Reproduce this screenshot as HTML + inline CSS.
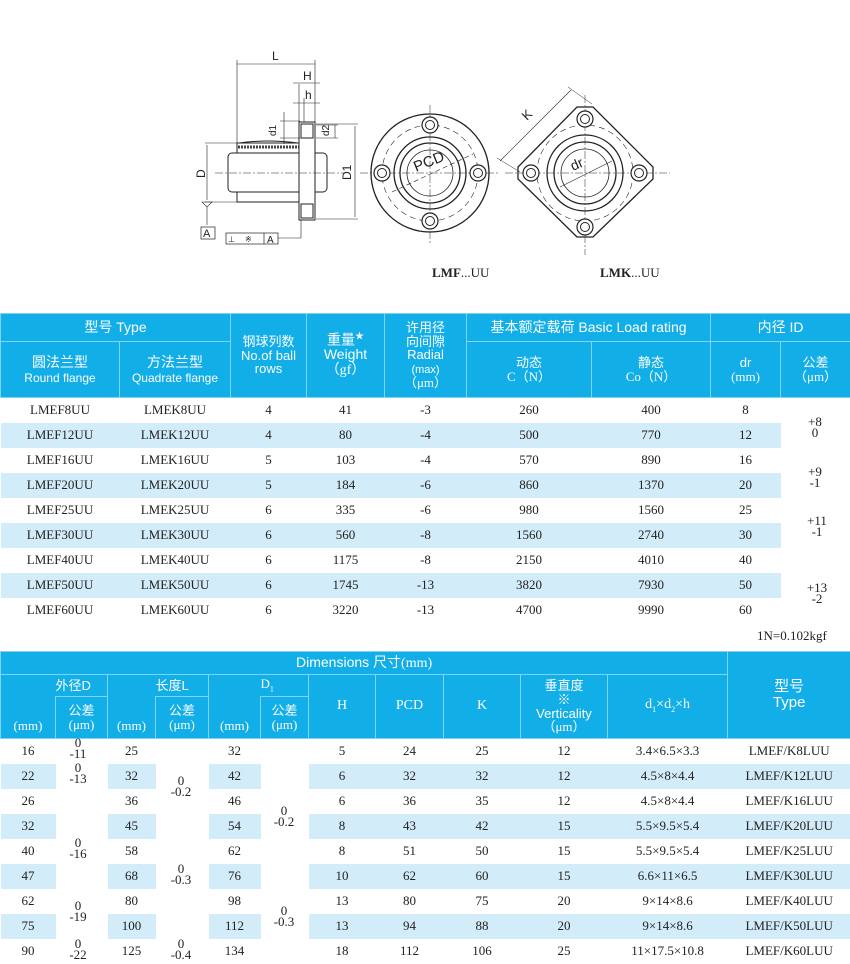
<!DOCTYPE html>
<html><head><meta charset="utf-8">
<style>
*{margin:0;padding:0;box-sizing:border-box}
body{width:850px;height:962px;background:#fff;position:relative;overflow:hidden;font-family:"Liberation Serif","Noto Serif CJK SC",serif;color:#222}
.a{position:absolute}
table{position:absolute;border-collapse:collapse;table-layout:fixed;left:0}
td{text-align:center;vertical-align:middle;padding:0;font-size:13px;white-space:nowrap;overflow:hidden}
.h td{background:#12aee8;color:#fff;font-family:"Liberation Sans","Noto Sans CJK SC",sans-serif;border:1px solid #7fd3f3;line-height:1.05}
.s td.b{background:#d3ecf9}
.tol{position:absolute;font-size:13px;line-height:11px;text-align:center;width:50px}
.sm{font-size:11px}
</style></head><body>

<svg class="a" style="left:0;top:0" width="850" height="300" viewBox="0 0 850 300">
<g stroke="#222" fill="none" stroke-width="1">
 <line x1="237" y1="60" x2="237" y2="143" stroke-width=".6"/>
 <line x1="315" y1="60" x2="315" y2="122" stroke-width=".6"/>
 <line x1="237" y1="64" x2="315" y2="64" stroke-width=".6"/>
 <line x1="299" y1="84" x2="299" y2="122" stroke-width=".6"/>
 <line x1="304" y1="98" x2="304" y2="122" stroke-width=".6"/>
 <line x1="293" y1="83" x2="320" y2="83" stroke-width=".6"/>
 <line x1="293" y1="103" x2="320" y2="103" stroke-width=".6"/>
 <rect x="237" y="143" width="63" height="59" fill="#fff"/>
 <path d="M239 143 Q268 139 298 143" stroke-width="1"/>
 <line x1="238" y1="147" x2="299" y2="147" stroke-dasharray="2 1" stroke-width="3" stroke="#444"/>
 <rect x="228" y="153" width="99" height="39" rx="4" fill="#fff"/>
 <rect x="299" y="122" width="16" height="98" fill="#fff"/>
 <rect x="301" y="124" width="12" height="14"/>
 <rect x="301" y="204" width="12" height="14"/>
 <line x1="215" y1="173" x2="345" y2="173" stroke-dasharray="8 2 2 2" stroke-width=".6"/>
 <line x1="205" y1="143" x2="237" y2="143" stroke-width=".6"/>
 <line x1="205" y1="202" x2="237" y2="202" stroke-width=".6"/>
 <line x1="207" y1="145" x2="207" y2="200" stroke-width=".6"/>
 <line x1="316" y1="124" x2="358" y2="124" stroke-width=".6"/>
 <line x1="316" y1="219" x2="358" y2="219" stroke-width=".6"/>
 <line x1="355" y1="126" x2="355" y2="217" stroke-width=".6"/>
 <line x1="280" y1="121" x2="300" y2="121" stroke-width=".6"/>
 <line x1="280" y1="138" x2="300" y2="138" stroke-width=".6"/>
 <line x1="284" y1="112" x2="284" y2="144" stroke-width=".6"/>
 <line x1="316" y1="125" x2="338" y2="125" stroke-width=".6"/>
 <line x1="316" y1="138" x2="338" y2="138" stroke-width=".6"/>
 <line x1="335" y1="125" x2="335" y2="138" stroke-width=".6"/>
 <path d="M202 202 L207 207 L212 202 Z" stroke-width=".6"/>
 <line x1="207" y1="207" x2="207" y2="225" stroke-width=".6"/>
 <rect x="201" y="227" width="14" height="12" stroke-width=".7"/>
 <rect x="226" y="233" width="52" height="11" stroke-width=".7"/>
 <line x1="264" y1="233" x2="264" y2="244" stroke-width=".7"/>
 <line x1="278" y1="238" x2="301" y2="238" stroke-width=".6"/>
 <line x1="301" y1="220" x2="301" y2="238" stroke-width=".6"/>
 <line x1="360" y1="173" x2="500" y2="173" stroke-dasharray="8 2 2 2" stroke-width=".5"/>
 <line x1="430" y1="105" x2="430" y2="243" stroke-dasharray="8 2 2 2" stroke-width=".5"/>
 <circle cx="430" cy="173" r="59" stroke-width="1.3"/>
 <circle cx="430" cy="173" r="48" stroke-dasharray="6 4" stroke-width=".6"/>
 <circle cx="430" cy="173" r="36" stroke-width="1.3"/>
 <circle cx="430" cy="173" r="30" stroke-width="1.3"/>
 <circle cx="430" cy="173" r="23" stroke-width=".8"/>
 <g fill="#fff" stroke-width="1.2">
 <circle cx="430" cy="125" r="8"/><circle cx="430" cy="221" r="8"/><circle cx="382" cy="173" r="8"/><circle cx="478" cy="173" r="8"/></g>
 <circle cx="430" cy="125" r="4.5"/><circle cx="430" cy="221" r="4.5"/><circle cx="382" cy="173" r="4.5"/><circle cx="478" cy="173" r="4.5"/>
 <line x1="392" y1="192" x2="473" y2="154" stroke-dasharray="5 3" stroke-width=".6"/>
 <line x1="505" y1="173" x2="670" y2="173" stroke-dasharray="8 2 2 2" stroke-width=".5"/>
 <line x1="585" y1="95" x2="585" y2="255" stroke-dasharray="8 2 2 2" stroke-width=".5"/>
 <polygon points="577,107 593,107 653,167 653,179 593,237 577,237 518,179 518,167" stroke-width="1.3"/>
 <circle cx="585" cy="173" r="48" stroke-dasharray="6 4" stroke-width=".6"/>
 <circle cx="585" cy="173" r="38" stroke-width="1.3"/>
 <circle cx="585" cy="173" r="31" stroke-width="1.3"/>
 <circle cx="585" cy="173" r="24" stroke-width=".8"/>
 <g fill="#fff" stroke-width="1.2">
 <circle cx="585" cy="119" r="8"/><circle cx="585" cy="227" r="8"/><circle cx="531" cy="173" r="8"/><circle cx="639" cy="173" r="8"/></g>
 <circle cx="585" cy="119" r="4.5"/><circle cx="585" cy="227" r="4.5"/><circle cx="531" cy="173" r="4.5"/><circle cx="639" cy="173" r="4.5"/>
 <line x1="560" y1="187" x2="612" y2="161" stroke-width=".6"/>
 <line x1="500" y1="161" x2="571" y2="90" stroke-width=".6"/>
 <line x1="497" y1="158" x2="520" y2="172" stroke-width=".5"/>
 <line x1="568" y1="87" x2="592" y2="104" stroke-width=".5"/>
</g>
<g font-family="Liberation Sans,sans-serif" font-size="12" fill="#222">
 <text x="272" y="60">L</text>
 <text x="303" y="80">H</text>
 <text x="305" y="99">h</text>
 <text x="276" y="136" transform="rotate(-90 276 136)" font-size="10">d1</text>
 <text x="329" y="136" transform="rotate(-90 329 136)" font-size="10">d2</text>
 <text x="205" y="178" transform="rotate(-90 205 178)">D</text>
 <text x="351" y="180" transform="rotate(-90 351 180)">D1</text>
 <text x="203" y="237" font-size="11">A</text>
 <text x="267" y="243" font-size="10">A</text>
 <text x="228" y="242" font-size="8">⊥</text>
 <text x="245" y="242" font-size="8">※</text>
 <text x="416" y="172" transform="rotate(-22 416 172)" font-size="15">PCD</text>
 <text x="573" y="171" transform="rotate(-24 573 171)" font-size="14">dr</text>
 <text x="527" y="121" transform="rotate(-45 527 121)" font-size="13">K</text>
</g>
<g font-family="Liberation Serif,serif" font-size="13" fill="#222">
 <text x="432" y="277"><tspan font-weight="bold">LMF</tspan>...UU</text>
 <text x="600" y="277"><tspan font-weight="bold">LMK</tspan>...UU</text>
</g>
</svg>

<table style="top:313px;width:850px">
<colgroup><col style="width:119px"><col style="width:111px"><col style="width:76px"><col style="width:78px"><col style="width:82px"><col style="width:125px"><col style="width:119px"><col style="width:70px"><col style="width:70px"></colgroup>
<tr class="h" style="height:28px"><td colspan="2" style="font-size:14px">型号 Type</td><td rowspan="2" style="font-size:13px">钢球列数<br>No.of ball<br>rows</td><td rowspan="2" style="font-size:14px">重量<sup style="font-size:9px">★</sup><br>Weight<br><span style="font-family:'Liberation Serif',serif">（gf）</span></td><td rowspan="2" style="font-size:13px">许用径<br>向间隙<br>Radial<br><span class="sm">(max)</span><br><span style="font-family:'Liberation Serif',serif">（μm）</span></td><td colspan="2" style="font-size:14px">基本额定载荷 Basic Load rating</td><td colspan="2" style="font-size:14px">内径 ID</td></tr>
<tr class="h" style="height:56px"><td style="font-size:14px">圆法兰型<br><span style="font-size:12px">Round flange</span></td><td style="font-size:14px">方法兰型<br><span style="font-size:12px">Quadrate flange</span></td><td style="font-size:13px">动态<br><span style="font-family:'Liberation Serif',serif">C（N）</span></td><td style="font-size:13px">静态<br><span style="font-family:'Liberation Serif',serif">Co（N）</span></td><td style="font-size:13px">dr<br><span style="font-family:'Liberation Serif',serif">(mm)</span></td><td style="font-size:13px">公差<br><span style="font-family:'Liberation Serif',serif">（μm）</span></td></tr>
<tr style="height:25px"><td>LMEF8UU</td><td>LMEK8UU</td><td>4</td><td>41</td><td>-3</td><td>260</td><td>400</td><td>8</td><td rowspan="2"></td></tr>
<tr class="s" style="height:25px"><td class="b">LMEF12UU</td><td class="b">LMEK12UU</td><td class="b">4</td><td class="b">80</td><td class="b">-4</td><td class="b">500</td><td class="b">770</td><td class="b">12</td></tr>
<tr style="height:25px"><td>LMEF16UU</td><td>LMEK16UU</td><td>5</td><td>103</td><td>-4</td><td>570</td><td>890</td><td>16</td><td rowspan="2"></td></tr>
<tr class="s" style="height:25px"><td class="b">LMEF20UU</td><td class="b">LMEK20UU</td><td class="b">5</td><td class="b">184</td><td class="b">-6</td><td class="b">860</td><td class="b">1370</td><td class="b">20</td></tr>
<tr style="height:25px"><td>LMEF25UU</td><td>LMEK25UU</td><td>6</td><td>335</td><td>-6</td><td>980</td><td>1560</td><td>25</td><td rowspan="2"></td></tr>
<tr class="s" style="height:25px"><td class="b">LMEF30UU</td><td class="b">LMEK30UU</td><td class="b">6</td><td class="b">560</td><td class="b">-8</td><td class="b">1560</td><td class="b">2740</td><td class="b">30</td></tr>
<tr style="height:25px"><td>LMEF40UU</td><td>LMEK40UU</td><td>6</td><td>1175</td><td>-8</td><td>2150</td><td>4010</td><td>40</td><td rowspan="3"></td></tr>
<tr class="s" style="height:25px"><td class="b">LMEF50UU</td><td class="b">LMEK50UU</td><td class="b">6</td><td class="b">1745</td><td class="b">-13</td><td class="b">3820</td><td class="b">7930</td><td class="b">50</td></tr>
<tr style="height:25px"><td>LMEF60UU</td><td>LMEK60UU</td><td>6</td><td>3220</td><td>-13</td><td>4700</td><td>9990</td><td>60</td></tr>
</table>
<div class="tol" style="left:790px;top:416px">+8<br>0</div>
<div class="tol" style="left:790px;top:466px">+9<br>-1</div>
<div class="tol" style="left:792px;top:515px">+11<br>-1</div>
<div class="tol" style="left:792px;top:582px">+13<br>-2</div>
<div class="a" style="left:757px;top:628px;font-size:13px">1N=0.102kgf</div>

<table style="top:651px;width:850px">
<colgroup><col style="width:55px"><col style="width:52px"><col style="width:48px"><col style="width:53px"><col style="width:52px"><col style="width:48px"><col style="width:67px"><col style="width:68px"><col style="width:77px"><col style="width:87px"><col style="width:120px"><col style="width:123px"></colgroup>
<tr class="h" style="height:23px"><td colspan="11" style="font-size:14px">Dimensions <span>尺寸</span><span style="font-family:'Liberation Serif',serif">(mm)</span></td><td rowspan="3" style="font-size:15px">型号<br>Type</td></tr>
<tr class="h" style="height:22px"><td style="border-bottom:none;border-right:none"></td><td style="border-left:none;font-size:13px;text-align:left;padding-left:0">外径D</td><td style="border-bottom:none;border-right:none"></td><td style="border-left:none;font-size:13px;text-align:left">长度L</td><td style="border-bottom:none;border-right:none"></td><td style="border-left:none;font-size:13px;text-align:left;font-family:'Liberation Serif',serif">D<sub style="font-size:8px">1</sub></td><td rowspan="2" style="font-family:'Liberation Serif',serif;font-size:14px">H</td><td rowspan="2" style="font-family:'Liberation Serif',serif;font-size:14px">PCD</td><td rowspan="2" style="font-family:'Liberation Serif',serif;font-size:14px">K</td><td rowspan="2" style="font-size:13px">垂直度<br>※<br>Verticality<br><span style="font-family:'Liberation Serif',serif">（μm）</span></td><td rowspan="2" style="font-family:'Liberation Serif',serif;font-size:14px">d<sub style="font-size:8px">1</sub>×d<sub style="font-size:8px">2</sub>×h</td></tr>
<tr class="h" style="height:42px"><td style="border-top:none;vertical-align:bottom;font-family:'Liberation Serif',serif;padding-bottom:5px">(mm)</td><td>公差<br><span style="font-family:'Liberation Serif',serif">(μm)</span></td><td style="border-top:none;vertical-align:bottom;font-family:'Liberation Serif',serif;padding-bottom:5px">(mm)</td><td>公差<br><span style="font-family:'Liberation Serif',serif">(μm)</span></td><td style="border-top:none;vertical-align:bottom;font-family:'Liberation Serif',serif;padding-bottom:5px">(mm)</td><td>公差<br><span style="font-family:'Liberation Serif',serif">(μm)</span></td></tr>
<tr style="height:25px"><td>16</td><td></td><td>25</td><td></td><td>32</td><td></td><td>5</td><td>24</td><td>25</td><td>12</td><td>3.4×6.5×3.3</td><td>LMEF/K8LUU</td></tr>
<tr class="s" style="height:25px"><td class="b">22</td><td></td><td class="b">32</td><td></td><td class="b">42</td><td></td><td class="b">6</td><td class="b">32</td><td class="b">32</td><td class="b">12</td><td class="b">4.5×8×4.4</td><td class="b">LMEF/K12LUU</td></tr>
<tr style="height:25px"><td>26</td><td></td><td>36</td><td></td><td>46</td><td></td><td>6</td><td>36</td><td>35</td><td>12</td><td>4.5×8×4.4</td><td>LMEF/K16LUU</td></tr>
<tr class="s" style="height:25px"><td class="b">32</td><td></td><td class="b">45</td><td></td><td class="b">54</td><td></td><td class="b">8</td><td class="b">43</td><td class="b">42</td><td class="b">15</td><td class="b">5.5×9.5×5.4</td><td class="b">LMEF/K20LUU</td></tr>
<tr style="height:25px"><td>40</td><td></td><td>58</td><td></td><td>62</td><td></td><td>8</td><td>51</td><td>50</td><td>15</td><td>5.5×9.5×5.4</td><td>LMEF/K25LUU</td></tr>
<tr class="s" style="height:25px"><td class="b">47</td><td></td><td class="b">68</td><td></td><td class="b">76</td><td></td><td class="b">10</td><td class="b">62</td><td class="b">60</td><td class="b">15</td><td class="b">6.6×11×6.5</td><td class="b">LMEF/K30LUU</td></tr>
<tr style="height:25px"><td>62</td><td></td><td>80</td><td></td><td>98</td><td></td><td>13</td><td>80</td><td>75</td><td>20</td><td>9×14×8.6</td><td>LMEF/K40LUU</td></tr>
<tr class="s" style="height:25px"><td class="b">75</td><td></td><td class="b">100</td><td></td><td class="b">112</td><td></td><td class="b">13</td><td class="b">94</td><td class="b">88</td><td class="b">20</td><td class="b">9×14×8.6</td><td class="b">LMEF/K50LUU</td></tr>
<tr style="height:25px"><td>90</td><td></td><td>125</td><td></td><td>134</td><td></td><td>18</td><td>112</td><td>106</td><td>25</td><td>11×17.5×10.8</td><td>LMEF/K60LUU</td></tr>
</table>
<div class="tol" style="left:53px;top:737px">0<br>-11</div>
<div class="tol" style="left:53px;top:762px">0<br>-13</div>
<div class="tol" style="left:53px;top:837px">0<br>-16</div>
<div class="tol" style="left:53px;top:900px">0<br>-19</div>
<div class="tol" style="left:53px;top:938px">0<br>-22</div>
<div class="tol" style="left:156px;top:775px">0<br>-0.2</div>
<div class="tol" style="left:156px;top:863px">0<br>-0.3</div>
<div class="tol" style="left:156px;top:938px">0<br>-0.4</div>
<div class="tol" style="left:259px;top:805px">0<br>-0.2</div>
<div class="tol" style="left:259px;top:905px">0<br>-0.3</div>
</body></html>
